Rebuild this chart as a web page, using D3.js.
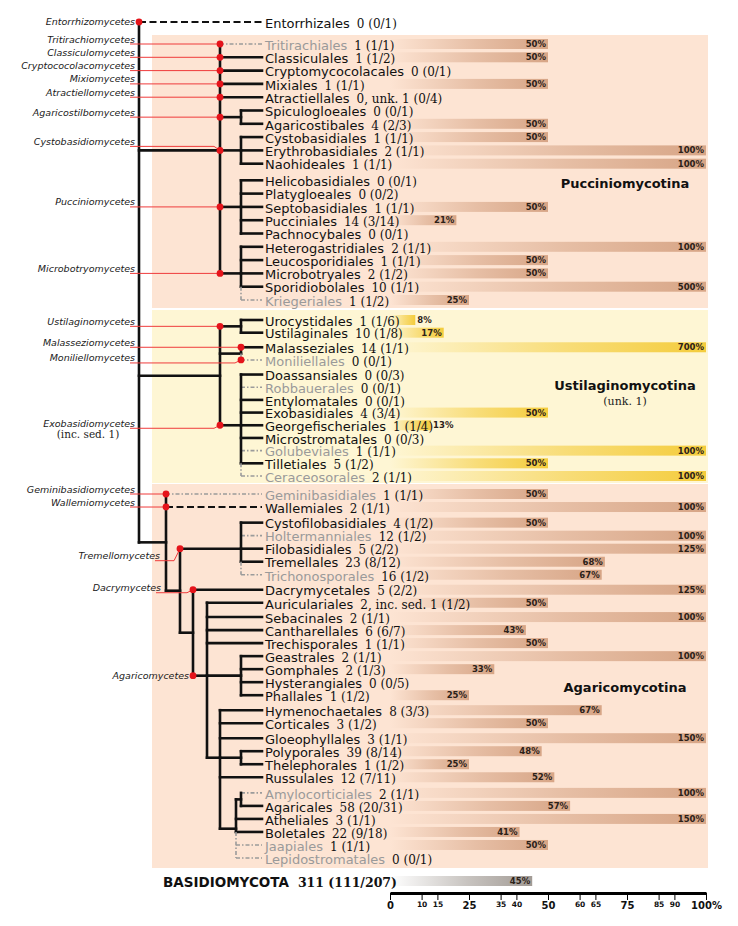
<!DOCTYPE html>
<html><head><meta charset="utf-8">
<script src="https://cdn.jsdelivr.net/npm/d3@7/dist/d3.min.js"></script>
<style>body{margin:0;background:#fff}</style>
</head><body>
<svg id="c" width="738" height="926"></svg>
<script>
// ---------------- DATA ----------------
const outgroupOrders = ["Entorrhizales"];
const outgroupCounts = ["0 (0/1)"];
const outgroupPct = [null];

const puccOrders = ["Tritirachiales","Classiculales","Cryptomycocolacales","Mixiales","Atractiellales",
  "Spiculogloeales","Agaricostibales","Cystobasidiales","Erythrobasidiales","Naohideales",
  "Helicobasidiales","Platygloeales","Septobasidiales","Pucciniales","Pachnocybales",
  "Heterogastridiales","Leucosporidiales","Microbotryales","Sporidiobolales","Kriegeriales"];
const puccCounts = ["1 (1/1)","1 (1/2)","0 (0/1)","1 (1/1)","0, unk. 1 (0/4)",
  "0 (0/1)","4 (2/3)","1 (1/1)","2 (1/1)","1 (1/1)",
  "0 (0/1)","0 (0/2)","1 (1/1)","14 (3/14)","0 (0/1)",
  "2 (1/1)","1 (1/1)","2 (1/2)","10 (1/1)","1 (1/2)"];
const puccPct = [50,50,null,50,null, null,50,50,100,100, null,null,50,21,null, 100,50,50,500,25];

const ustOrders = ["Urocystidales","Ustilaginales","Malasseziales","Moniliellales","Doassansiales",
  "Robbauerales","Entylomatales","Exobasidiales","Georgefischeriales","Microstromatales",
  "Golubeviales","Tilletiales","Ceraceosorales"];
const ustCounts = ["1 (1/6)","10 (1/8)","14 (1/1)","0 (0/1)","0 (0/3)",
  "0 (0/1)","0 (0/1)","4 (3/4)","1 (1/4)","0 (0/3)",
  "1 (1/1)","5 (1/2)","2 (1/1)"];
const ustPct = [8,17,700,null,null, null,null,50,13,null, 100,50,100];

const agaOrders = ["Geminibasidiales","Wallemiales","Cystofilobasidiales","Holtermanniales","Filobasidiales",
  "Tremellales","Trichonosporales","Dacrymycetales","Auriculariales","Sebacinales",
  "Cantharellales","Trechisporales","Geastrales","Gomphales","Hysterangiales",
  "Phallales","Hymenochaetales","Corticales","Gloeophyllales","Polyporales",
  "Thelephorales","Russulales","Amylocorticiales","Agaricales","Atheliales",
  "Boletales","Jaapiales","Lepidostromatales"];
const agaCounts = ["1 (1/1)","2 (1/1)","4 (1/2)","12 (1/2)","5 (2/2)",
  "23 (8/12)","16 (1/2)","5 (2/2)","2, inc. sed. 1 (1/2)","2 (1/1)",
  "6 (6/7)","1 (1/1)","2 (1/1)","2 (1/3)","0 (0/5)",
  "1 (1/2)","8 (3/3)","3 (1/2)","3 (1/1)","39 (8/14)",
  "1 (1/2)","12 (7/11)","2 (1/1)","58 (20/31)","3 (1/1)",
  "22 (9/18)","1 (1/1)","0 (0/1)"];
const agaPct = [50,100,50,100,125, 68,67,125,50,100, 43,50,100,33,null, 25,67,50,150,48, 25,52,100,57,150, 41,50,null];

const totalLabel = "BASIDIOMYCOTA";
const totalCount = "311 (111/207)";
const totalPct = 45;

// orders newly described (grey) and with dashed connectors
const newOrders = ["Tritirachiales","Kriegeriales","Moniliellales","Robbauerales","Golubeviales","Ceraceosorales",
  "Geminibasidiales","Holtermanniales","Trichonosporales","Amylocorticiales","Jaapiales","Lepidostromatales"];
const dashedOrders = ["Entorrhizales","Wallemiales"];

const subphyla = ["Pucciniomycotina","Ustilaginomycotina","Agaricomycotina"];
const subphylumNotes = ["","(unk. 1)",""];

const classLabels = ["Entorrhizomycetes","Tritirachiomycetes","Classiculomycetes","Cryptococolacomycetes",
  "Mixiomycetes","Atractiellomycetes","Agaricostilbomycetes","Cystobasidiomycetes","Pucciniomycetes",
  "Microbotryomycetes","Ustilaginomycetes","Malasseziomycetes","Moniliellomycetes","Exobasidiomycetes",
  "Geminibasidiomycetes","Wallemiomycetes","Tremellomycetes","Dacrymycetes","Agaricomycetes"];
const classNodes = ["Entorrhizales","Tritirachiales","Classiculales","Cryptomycocolacales",
  "Mixiales","Atractiellales","Agaricostilbomycetes","Cystobasidiomycetes","Pucciniomycetes",
  "Microbotryomycetes","Ustilaginomycetes","Malasseziales","Moniliellales","Exobasidiomycetes",
  "Geminibasidiales","Wallemiales","Tremellomycetes","Dacrymycetales","Agaricomycetes"];
const classNotes = {"Exobasidiomycetes":"(inc. sed. 1)"};

const axisTicks = [0,10,15,25,35,40,50,60,65,75,85,90,100];
const majorTicks = [0,25,50,75,100];

// tree topology (lvl = depth column of the vertical line)
const tree = {id:"root", lvl:0, kids:[
  "Entorrhizales",
  {id:"Pucciniomycotina", lvl:5, at:"Cystobasidiomycetes", kids:[
    "Tritirachiales","Classiculales","Cryptomycocolacales","Mixiales","Atractiellales",
    {id:"Agaricostilbomycetes", lvl:7, kids:["Spiculogloeales","Agaricostibales"]},
    {id:"Cystobasidiomycetes", lvl:7, kids:["Cystobasidiales","Erythrobasidiales","Naohideales"]},
    {id:"Pucciniomycetes", lvl:7, kids:["Helicobasidiales","Platygloeales","Septobasidiales","Pucciniales","Pachnocybales"]},
    {id:"Microbotryomycetes", lvl:7, kids:["Heterogastridiales","Leucosporidiales","Microbotryales","Sporidiobolales","Kriegeriales"]}
  ]},
  {id:"Ustilaginomycotina", lvl:5, kids:[
    {id:"Ustilaginomycetes", lvl:7, kids:["Urocystidales","Ustilaginales"]},
    {id:"MalMon", lvl:7, kids:["Malasseziales","Moniliellales"]},
    {id:"Exobasidiomycetes", lvl:7, kids:["Doassansiales","Robbauerales","Entylomatales","Exobasidiales",
      "Georgefischeriales","Microstromatales","Golubeviales","Tilletiales","Ceraceosorales"]}
  ]},
  {id:"Agaricomycotina", lvl:1, kids:[
    "Geminibasidiales","Wallemiales",
    {id:"TremAga", lvl:2, kids:[
      {id:"Tremellomycetes", lvl:7, kids:["Cystofilobasidiales","Holtermanniales","Filobasidiales","Tremellales","Trichonosporales"]},
      {id:"DacAga", lvl:3, kids:[
        "Dacrymycetales",
        {id:"Agaricomycetes", lvl:4, at:"G1", kids:[
          "Auriculariales","Sebacinales","Cantharellales","Trechisporales",
          {id:"G1", lvl:7, kids:["Geastrales","Gomphales","Hysterangiales","Phallales"]},
          {id:"G2", lvl:5, at:"G3", kids:[
            "Hymenochaetales","Corticales","Gloeophyllales",
            {id:"G3", lvl:7, kids:["Polyporales","Thelephorales"]},
            "Russulales",
            {id:"G4", lvl:6, kids:[
              {id:"G5", lvl:7, kids:["Amylocorticiales","Agaricales"]},
              "Atheliales","Boletales","Jaapiales","Lepidostromatales"]}
          ]}
        ]}
      ]}
    ]}
  ]}
]};

// ---------------- LAYOUT ----------------
const svg = d3.select("#c");
const defs = svg.append("defs");
const sansF = "'DejaVu Sans', Verdana, sans-serif";
const serifF = "'DejaVu Serif', Georgia, serif";

const boxLeft = 152, boxRight = 708;
const textX = 265, leafLineEnd = 262;
const colBrown = "#d7a586", colYellow = "#f4cc3c", colGrey = "#a29b95";
const sections = [
  {orders:outgroupOrders, counts:outgroupCounts, pct:outgroupPct, range:[22,22], gaps:{}, box:null, bar:colBrown},
  {orders:puccOrders, counts:puccCounts, pct:puccPct, range:[44,300], gaps:{Helicobasidiales:0.25},
   box:"#fde4d3", bar:colBrown, pad:[9,8], label:[625,183]},
  {orders:ustOrders, counts:ustCounts, pct:ustPct, range:[320,476], gaps:{Malasseziales:0.15, Doassansiales:0.15},
   box:"#fef6d4", bar:colYellow, pad:[10,7], label:[625,385]},
  {orders:agaOrders, counts:agaCounts, pct:agaPct, range:[494,858],
   gaps:{Cystofilobasidiales:0.2, Dacrymycetales:0.15, Sebacinales:0.1, Hymenochaetales:0.15, Gloeophyllales:0.15, Amylocorticiales:0.2},
   box:"#fde4d3", bar:colBrown, pad:[10,10], label:[625,687]}
];

const yOf = {};
sections.forEach(s => {
  let acc = 0;
  const slots = s.orders.map((n,i) => { if (i>0) acc += 1 + (s.gaps[n]||0); return acc; });
  const sc = d3.scaleLinear().domain([0, Math.max(acc,1)]).range(s.range);
  s.orders.forEach((n,i) => yOf[n] = sc(slots[i]));
});
const totalY = 881;

const x = d3.scaleLinear().domain([0,100]).range([390,706]);
const xLvl = d3.scaleOrdinal().domain(d3.range(9)).range([139,166,180,193,207,220,236,241,262]);

function gradient(id, color){
  const g = defs.append("linearGradient").attr("id", id);
  g.append("stop").attr("offset","0%").attr("stop-color",color).attr("stop-opacity",0);
  g.append("stop").attr("offset","55%").attr("stop-color",color).attr("stop-opacity",0.6);
  g.append("stop").attr("offset","100%").attr("stop-color",color).attr("stop-opacity",1);
}
gradient("gB", colBrown); gradient("gY", colYellow); gradient("gG", colGrey);
const gradId = {[colBrown]:"gB",[colYellow]:"gY",[colGrey]:"gG"};

// boxes
sections.forEach(s => {
  if (!s.box) return;
  const y0 = yOf[s.orders[0]] - s.pad[0], y1 = yOf[s.orders[s.orders.length-1]] + s.pad[1];
  svg.append("rect").attr("x",boxLeft).attr("y",y0).attr("width",boxRight-boxLeft).attr("height",y1-y0).attr("fill",s.box);
});

// bars
const barH = 10;
function drawBar(y, p, color){
  if (p == null) return;
  const w = x(Math.min(p,100)) - x(0);
  svg.append("rect").attr("x",x(0)).attr("y",y-barH/2).attr("width",w).attr("height",barH)
    .attr("fill",`url(#${gradId[color]})`);
  const inside = w > 45;
  svg.append("text").attr("x", inside ? x(0)+w-2 : x(0)+w+2).attr("y",y).attr("dy","0.36em")
    .attr("text-anchor", inside ? "end" : "start")
    .style("font-family",sansF).style("font-weight","bold").style("font-size","8.5px")
    .attr("fill","#2b2118").text(p + "%");
}
sections.forEach(s => s.orders.forEach((n,i) => drawBar(yOf[n], s.pct[i], s.bar)));
drawBar(totalY, totalPct, colGrey);

// tree layout
const nodeInfo = {};
function layout(n){
  if (typeof n === "string") return {leaf:true, id:n, y:yOf[n]};
  const kids = n.kids.map(layout);
  let y;
  if (n.at) y = kids.find(k => k.id === n.at).y;
  else y = (d3.min(kids, k=>k.y) + d3.max(kids, k=>k.y)) / 2;
  const node = {leaf:false, id:n.id, lvl:n.lvl, kids, y};
  kids.forEach(k => nodeInfo[k.id] = {y:k.y, px:xLvl(n.lvl)});
  return node;
}
const root = layout(tree);

const gTree = svg.append("g");
function line(x1,y1,x2,y2,style){
  const l = gTree.append("line").attr("x1",x1).attr("y1",y1).attr("x2",x2).attr("y2",y2);
  if (style === "grey") l.attr("stroke","#9b9b9b").attr("stroke-width",1.6).attr("stroke-dasharray","4,2,1.5,2");
  else if (style === "dash") l.attr("stroke","#111").attr("stroke-width",2.2).attr("stroke-dasharray","7,3.5");
  else l.attr("stroke","#111").attr("stroke-width",2.6).attr("stroke-linecap","square");
}
function leafStyle(k){
  if (!k.leaf) return "solid";
  if (newOrders.includes(k.id)) return "grey";
  if (dashedOrders.includes(k.id)) return "dash";
  return "solid";
}
function drawNode(n){
  const px = xLvl(n.lvl);
  n.kids.forEach(k => {
    const st = leafStyle(k);
    line(px, k.y, k.leaf ? leafLineEnd : xLvl(k.lvl), k.y, st);
  });
  const ys = n.kids.map(k=>k.y);
  const top = d3.min(ys), bot = d3.max(ys);
  const solidYs = n.kids.filter(k => leafStyle(k) !== "grey").map(k=>k.y).concat([n.y, top]);
  const solidBot = d3.max(solidYs);
  line(px, top, px, solidBot, "solid");
  if (bot > solidBot) line(px, solidBot, px, bot, "grey");
  n.kids.forEach(k => { if (!k.leaf) drawNode(k); });
}
drawNode(root);

// class labels, red lines, dots
const labelTweak = {
  Entorrhizomycetes:{noLine:true},
  Cystobasidiomycetes:{dy:-4},
  Moniliellomycetes:{dy:3},
  Exobasidiomycetes:{dy:3},
  Tremellomycetes:{right:160, dy:12},
  Dacrymycetes:{right:161, dy:3},
  Agaricomycetes:{right:189, noLine:true}
};
const gRed = svg.append("g"), gDots = svg.append("g"), gLab = svg.append("g");
classLabels.forEach((lab,i) => {
  const info = nodeInfo[classNodes[i]];
  const t = labelTweak[lab] || {};
  const right = t.right || 135;
  const lineY = info.y + (t.dy || 0);
  if (!t.noLine) {
    const pts = [[right-5, lineY],[info.px-6, lineY],[info.px, info.y]];
    gRed.append("path").attr("d", d3.line()(pts)).attr("fill","none").attr("stroke","#ef3b3b").attr("stroke-width",1);
  }
  gDots.append("circle").attr("cx",info.px).attr("cy",info.y).attr("r",3.4).attr("fill","#e5141b");
  gLab.append("text").attr("x", t.noLine ? right : right).attr("y", t.noLine ? info.y + 3.3 : lineY - 1.5)
    .attr("text-anchor","end").style("font-family",sansF).style("font-style","italic").style("font-size","9.5px")
    .attr("fill","#1a1a1a").text(lab);
  if (classNotes[lab]) {
    gLab.append("text").attr("x", 88).attr("y", lineY + 10).attr("text-anchor","middle")
      .style("font-family",serifF).style("font-size","10.5px").attr("fill","#222").text(classNotes[lab]);
  }
});

// order labels
const gTxt = svg.append("g");
sections.forEach(s => s.orders.forEach((n,i) => {
  const t = gTxt.append("text").attr("x",textX).attr("y",yOf[n]).attr("dy","0.36em");
  t.append("tspan").style("font-family",sansF).style("font-size","13px")
    .attr("fill", newOrders.includes(n) ? "#9a9a9a" : "#111").text(n);
  t.append("tspan").attr("dx",7).style("font-family",serifF).style("font-size","12px").attr("fill","#111").text(s.counts[i]);
}));

// subphylum labels
sections.slice(1).forEach((s,i) => {
  svg.append("text").attr("x",s.label[0]).attr("y",s.label[1]).attr("dy","0.36em").attr("text-anchor","middle")
    .style("font-family",sansF).style("font-weight","bold").style("font-size","13px").attr("fill","#111").text(subphyla[i]);
  if (subphylumNotes[i]) svg.append("text").attr("x",s.label[0]).attr("y",s.label[1]+16).attr("dy","0.36em")
    .attr("text-anchor","middle").style("font-family",serifF).style("font-size","11px").attr("fill","#222").text(subphylumNotes[i]);
});

// total
const tt = svg.append("text").attr("x",163).attr("y",totalY).attr("dy","0.36em");
tt.append("tspan").style("font-family",sansF).style("font-weight","bold").style("font-size","13.5px").attr("fill","#111").text(totalLabel);
tt.append("tspan").attr("dx",9).style("font-family",serifF).style("font-weight","bold").style("font-size","12.5px").attr("fill","#111").text(totalCount);

// axis
const ax = svg.append("g").attr("transform","translate(0,893)")
  .call(d3.axisBottom(x).tickValues(axisTicks).tickSize(7).tickSizeOuter(0).tickFormat(d => d===100 ? "100%" : d));
ax.select(".domain").attr("stroke","#000").attr("stroke-width",3.2);
ax.selectAll(".tick line").attr("stroke","#000").attr("stroke-width",1);
ax.selectAll(".tick text").attr("y", 8).attr("dy","0.8em")
  .style("font-family",sansF).style("font-weight","bold").attr("fill","#111")
  .style("font-size", d => majorTicks.includes(d) ? "10px" : "7.5px");
</script>
</body></html>
